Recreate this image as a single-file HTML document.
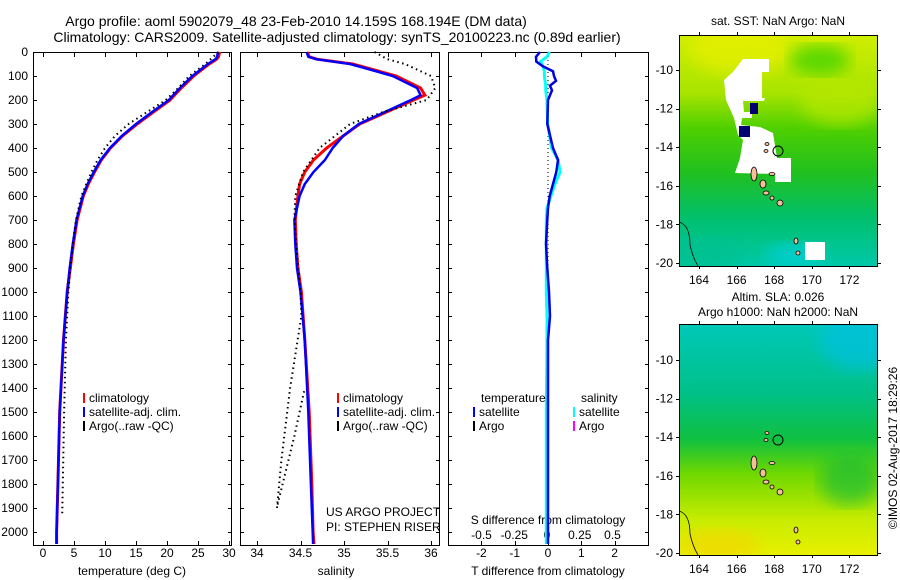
<!DOCTYPE html>
<html><head><meta charset="utf-8">
<style>
html,body{margin:0;padding:0;background:#fff;}
svg{display:block;font-family:"Liberation Sans",sans-serif;}
text{fill:#000;}
</style></head>
<body>
<svg id="fig" width="900" height="580" viewBox="0 0 900 580" xmlns="http://www.w3.org/2000/svg">
<defs>
<linearGradient id="sstGrad" x1="0" y1="0" x2="0" y2="1">
<stop offset="0" stop-color="#d0ee00"/><stop offset="0.25" stop-color="#a8e400"/><stop offset="0.4" stop-color="#50d000"/><stop offset="0.6" stop-color="#20c020"/><stop offset="0.8" stop-color="#00c070"/><stop offset="1" stop-color="#00c8a8"/>
</linearGradient>
<linearGradient id="slaGrad" x1="0" y1="0" x2="0" y2="1">
<stop offset="0" stop-color="#00c8b8"/><stop offset="0.3" stop-color="#00c088"/><stop offset="0.5" stop-color="#10c040"/><stop offset="0.65" stop-color="#70d800"/><stop offset="0.85" stop-color="#c8ec00"/><stop offset="1" stop-color="#e8f000"/>
</linearGradient>
<filter id="blur"><feGaussianBlur stdDeviation="8"/></filter>
<clipPath id="clipTop"><rect x="679" y="35" width="198" height="231"/></clipPath>
<clipPath id="clipBot"><rect x="679" y="324" width="198" height="231"/></clipPath>
</defs>
<g id="root"></g>
</svg>
<script>
// ---- data ----
const depthClim = [0,20,30,50,100,150,180,200,250,300,350,400,450,500,550,600,700,800,900,1000,1200,1500,1800,2000,2050];
const tempClim  = [28.5,28.3,28,26.8,24.3,22.3,21.2,20.5,17.8,15.2,12.8,10.9,9.4,8.3,7.3,6.5,5.5,4.9,4.4,3.9,3.3,2.7,2.4,2.2,2.2];
const tempSat   = [28.2,28.1,27.8,26.6,24.1,22.1,21.0,20.3,17.6,15.0,12.7,10.8,9.3,8.2,7.2,6.4,5.4,4.8,4.3,3.9,3.3,2.7,2.4,2.2,2.2];
const salClim   = [34.58,34.6,34.69,35.1,35.6,35.88,35.93,35.8,35.49,35.18,34.99,34.8,34.65,34.55,34.49,34.47,34.44,34.45,34.47,34.51,34.55,34.6,34.63,34.645,34.655];
const salSat    = [34.57,34.59,34.68,35.07,35.56,35.84,35.88,35.77,35.47,35.17,34.99,34.87,34.78,34.65,34.55,34.49,34.43,34.44,34.46,34.5,34.55,34.59,34.62,34.64,34.645];
const depthArgoT = [0,50,100,150,200,250,300,350,400,450,500,600,700,800,900,1000,1200,1500,1800,1930];
const tempArgo   = [28.3,26.2,23.6,21.8,19.8,16.8,13.8,11.6,10.0,8.8,7.8,6.2,5.3,4.8,4.4,4.1,3.7,3.4,3.2,3.1];
const depthArgoS = [0,30,50,100,150,200,250,300,400,500,600,700,800,1000,1100,1400,1700,1900,1880,1600,1400];
const salArgo    = [35.35,35.5,35.7,36.0,36.05,35.95,35.45,35.07,34.72,34.53,34.44,34.43,34.45,34.5,34.51,34.38,34.28,34.23,34.24,34.43,34.55];
const depthDiff = [0,20,40,60,80,100,120,140,160,200,300,400,450,500,550,600,650,700,800,900,1000,1100,1200,1500,1700,2050];
const tDiffSat  = [-0.24,-0.36,-0.35,-0.15,0.15,0.18,0.24,0.06,0.12,0,-0.02,0.15,0.3,0.25,0.15,0.05,0,-0.02,-0.06,-0.02,0.03,0.06,0,0,0,0];
const sDiffSat  = [0.02,0,-0.05,-0.03,-0.02,-0.02,-0.015,-0.01,-0.01,0,0.005,0.035,0.085,0.1,0.06,0.03,0,-0.005,-0.005,-0.005,-0.005,0,0,-0.005,-0.005,-0.005];
const depthTicks = [0,100,200,300,400,500,600,700,800,900,1000,1100,1200,1300,1400,1500,1600,1700,1800,1900,2000];
const tempTicks = [0,5,10,15,20,25,30];
const salTicks = [34,34.5,35,35.5,36];
const tDiffTicks = [-2,-1,0,1,2];
const sDiffTicks = [-0.5,-0.25,0,0.25,0.5];
const lonTicks = [164,166,168,170,172];
const latTicks = [-10,-12,-14,-16,-18,-20];

// ---- scales ----
const yD = d => 52 + d*0.24;
const xT = t => 43 + t*6.2;
const xS = s => 257 + (s-34)*87;
const xTD = v => 548 + v*33.3;
const xSD = v => 547 + v*131;
const mapX = lon => 699 + (lon-164)*18.8;
const mapYTop = lat => 70 + (-10-lat)*19.3;
const mapYBot = lat => 360 + (-10-lat)*19.3;

const NS="http://www.w3.org/2000/svg";
const root=document.getElementById('root');
function mk(tag,attrs,parent,txt){const e=document.createElementNS(NS,tag);for(const k in attrs)e.setAttribute(k,attrs[k]);if(txt!==undefined)e.textContent=txt;(parent||root).appendChild(e);return e;}
function line(xs,ys,xf,yf,stroke,w,dash,name){
  const pts=xs.map((v,i)=>xf(v).toFixed(1)+','+yf(ys[i]).toFixed(1)).join(' ');
  const e=mk('polyline',{points:pts,fill:'none',stroke:stroke,'stroke-width':w,'stroke-dasharray':dash||'none'});
  
  
  return e;
}
function txt(x,y,s,size,anchor,name,extra){
  const e=mk('text',Object.assign({x:x,y:y,'font-size':size,'text-anchor':anchor||'start'},extra||{}),root,s);
  
  
  return e;
}

// titles
txt(296,26,'Argo profile: aoml 5902079_48 23-Feb-2010 14.159S 168.194E (DM data)',14,'middle','title-line-1');
txt(337,42,'Climatology: CARS2009. Satellite-adjusted climatology: synTS_20100223.nc (0.89d earlier)',14,'middle','title-line-2');

// panel frames
const panels=[[33,231,'temperature-panel'],[240,439,'salinity-panel'],[448,648,'difference-panel']];
panels.forEach(p=>{
  const r=mk('rect',{x:p[0]+0.5,y:52.5,width:p[1]-p[0],height:493,fill:'none',stroke:'#000','stroke-width':1});
  
  
  depthTicks.forEach(d=>{
    mk('line',{x1:p[0],x2:p[0]+4,y1:yD(d)+0.5,y2:yD(d)+0.5,stroke:'#000'});
    mk('line',{x1:p[1]-3,x2:p[1]+1,y1:yD(d)+0.5,y2:yD(d)+0.5,stroke:'#000'});
  });
});
depthTicks.forEach(d=>{txt(28,yD(d)+4,String(d),12,'end','depth-tick-label');});

function xticks(ticks,f,fmt,name){
  ticks.forEach(t=>{
    const x=Math.round(f(t))+0.5;
    mk('line',{x1:x,x2:x,y1:53,y2:57,stroke:'#000'});
    mk('line',{x1:x,x2:x,y1:541,y2:545,stroke:'#000'});
    txt(f(t),557,fmt(t),12,'middle',name);
  });
}
xticks(tempTicks,xT,String,'temperature-tick-label');
xticks(salTicks,xS,String,'salinity-tick-label');
xticks(tDiffTicks,xTD,String,'t-diff-tick-label');
sDiffTicks.forEach(t=>{txt(xSD(t),539,String(t),12,'middle','s-diff-tick-label');});
txt(132,575,'temperature (deg C)',12,'middle','temperature-axis-title');
txt(336,575,'salinity',12,'middle','salinity-axis-title');
txt(548,575,'T difference from climatology',12,'middle','t-diff-axis-title');
txt(548,524,'S difference from climatology',12,'middle','s-diff-axis-title');

// profiles
line(tempClim,depthClim,xT,yD,'#ff0000',3,null,'temperature-climatology-line');
line(tempSat,depthClim,xT,yD,'#0000ff',2.5,null,'temperature-satellite-line');
line(tempArgo,depthArgoT,xT,yD,'#000',2,'1.5,3.5','temperature-argo-line');
line(salClim,depthClim,xS,yD,'#ff0000',3,null,'salinity-climatology-line');
line(salSat,depthClim,xS,yD,'#0000ff',2.5,null,'salinity-satellite-line');
line(salArgo,depthArgoS,xS,yD,'#000',2,'1.5,3.5','salinity-argo-line');
const zl=mk('line',{x1:548,x2:548,y1:yD(0),y2:yD(1000),stroke:'#000','stroke-width':1,'stroke-dasharray':'1,3'});


line(sDiffSat,depthDiff,xSD,yD,'#00ffff',3,null,'salinity-diff-satellite-line');
line(tDiffSat,depthDiff,xTD,yD,'#0000e0',2.5,null,'temperature-diff-satellite-line');

// legends
function legend(x,y,color,label,name){
  const b=mk('rect',{x:x,y:y-9,width:2,height:10,fill:color});
  
  
  txt(x+6,y,label,12,'start',name);
}
legend(83,402,'#ff0000','climatology','legend-t-climatology');
legend(83,416,'#0000ff','satellite-adj. clim.','legend-t-satellite');
legend(83,430,'#000','Argo(..raw -QC)','legend-t-argo');
legend(337,402,'#ff0000','climatology','legend-s-climatology');
legend(337,416,'#0000ff','satellite-adj. clim.','legend-s-satellite');
legend(337,430,'#000','Argo(..raw -QC)','legend-s-argo');
txt(481,402,'temperature',12,'start','legend-temperature-header');
txt(581,402,'salinity',12,'start','legend-salinity-header');
legend(473,416,'#0000ff','satellite','legend-tdiff-satellite');
legend(473,430,'#000','Argo','legend-tdiff-argo');
legend(573,416,'#00ffff','satellite','legend-sdiff-satellite');
legend(573,430,'#ff00ff','Argo','legend-sdiff-argo');
txt(326,516,'US ARGO PROJECT',12,'start','project-label');
txt(326,531,'PI: STEPHEN RISER',12,'start','pi-label');

// maps
function map(y0,grad,yf,name,isTop){
  const g=mk('g',{'clip-path':isTop?'url(#clipTop)':'url(#clipBot)'});
  
  
  mk('rect',{x:679,y:y0,width:198,height:231,fill:'url(#'+grad+')'},g);
  if(isTop){
    mk('ellipse',{cx:740,cy:50,rx:50,ry:25,fill:'#f0f000',opacity:0.6,filter:'url(#blur)'},g);
    mk('ellipse',{cx:840,cy:100,rx:40,ry:25,fill:'#b8e800',opacity:0.7,filter:'url(#blur)'},g);
    mk('ellipse',{cx:820,cy:60,rx:30,ry:15,fill:'#30d000',opacity:0.7,filter:'url(#blur)'},g);
    mk('ellipse',{cx:700,cy:255,rx:40,ry:18,fill:'#00c090',opacity:0.8,filter:'url(#blur)'},g);
    mk('ellipse',{cx:795,cy:255,rx:30,ry:12,fill:'#00d0d8',opacity:0.8,filter:'url(#blur)'},g);
    mk('polygon',{points:'743,59 769,59 769,72 762,72 762,98 765,98 764,101 743,101 744,112 752,112 752,118 742,118 741,125 760,127 773,133 777,158 791,158 791,182 775,182 775,174 735,173 740,158 743,140 738,135 734,118 726,100 724,80 733,72',fill:'#fff'},g);
    mk('rect',{x:805,y:242,width:20,height:18,fill:'#fff'},g);
    mk('rect',{x:750,y:103,width:8,height:11,fill:'#000070'},g);
    mk('rect',{x:739,y:126,width:11,height:11,fill:'#000070'},g);
  } else {
    mk('ellipse',{cx:860,cy:340,rx:40,ry:30,fill:'#00c0e0',opacity:0.7,filter:'url(#blur)'},g);
    mk('ellipse',{cx:850,cy:480,rx:30,ry:25,fill:'#10b840',opacity:0.6,filter:'url(#blur)'},g);
    mk('ellipse',{cx:720,cy:545,rx:40,ry:15,fill:'#f0d800',opacity:0.8,filter:'url(#blur)'},g);
  }
  // islands
  const off=y0-35;
  [[754,174+off,3,7],[763,184+off,3,4],[766,193+off,3,2],[772,198+off,2,2],[780,203+off,3,3],[796,241+off,2,3],[798,253+off,2,2],[772,174+off,3,1.5],[766,151+off,2,1.5],[767,144+off,2,1.5]].forEach(a=>{
    mk('ellipse',{cx:a[0],cy:a[1],rx:a[2],ry:a[3],fill:'#f4c09a',stroke:'#000','stroke-width':0.8},g);
  });
  mk('path',{d:'M679 '+(222+off)+' Q690 '+(225+off)+' 690 '+(245+off)+' Q693 '+(258+off)+' 698 '+(266+off),fill:'none',stroke:'#000','stroke-width':0.8},g);
  mk('circle',{cx:778,cy:151+off,r:5,fill:'none',stroke:'#000','stroke-width':1},g);
  mk('rect',{x:679.5,y:y0+0.5,width:198,height:231,fill:'none',stroke:'#000'});
  lonTicks.forEach(l=>{
    const x=Math.round(mapX(l))+0.5;
    mk('line',{x1:x,x2:x,y1:y0-3,y2:y0,stroke:'#000'});
    mk('line',{x1:x,x2:x,y1:y0+231,y2:y0+234,stroke:'#000'});
    txt(mapX(l),y0+249,String(l),12,'middle','longitude-tick-label');
  });
  latTicks.forEach(l=>{
    const y=Math.round(yf(l))+0.5;
    mk('line',{x1:676,x2:679,y1:y,y2:y,stroke:'#000'});
    mk('line',{x1:878,x2:881,y1:y,y2:y,stroke:'#000'});
    txt(673,yf(l)+4,String(l),12,'end','latitude-tick-label');
  });
}
map(35,'sstGrad',mapYTop,'sst-map',true);
map(324,'slaGrad',mapYBot,'sla-map',false);
txt(778,25,'sat. SST: NaN Argo: NaN',12,'middle','sst-map-title');
txt(778,301,'Altim. SLA: 0.026',12,'middle','sla-map-title');
txt(778,316,'Argo h1000: NaN h2000: NaN',12,'middle','sla-map-subtitle');
txt(0,0,'\u00a9IMOS 02-Aug-2017 18:29:26',12,'middle','timestamp-label',{transform:'translate(897,448) rotate(-90)'});
</script>
</body></html>
